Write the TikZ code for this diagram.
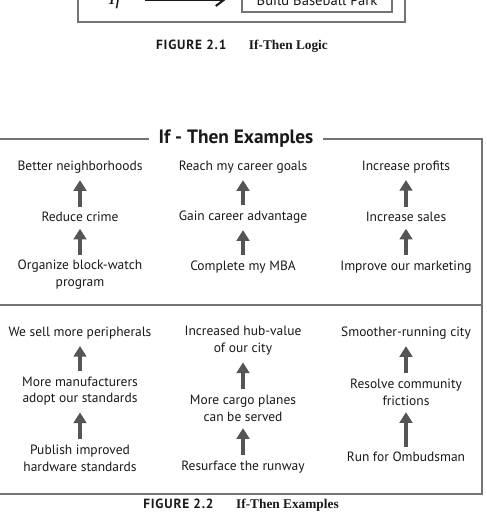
\documentclass[tikz,border=0pt]{standalone}
\usepackage{fontspec}
\setmainfont{Liberation Serif}
\setsansfont{PT Sans}
\definecolor{grisMarco}{RGB}{115,115,115}
\definecolor{grisFlecha}{RGB}{85,85,85}
\definecolor{tinta}{RGB}{25,25,25}
\usetikzlibrary{arrows.meta, positioning}
\newcommand{\figpie}[2]{{\sffamily\bfseries\fontsize{10}{10}\selectfont\addfontfeature{LetterSpace=6}#1}\hspace{17pt}{\rmfamily\bfseries\fontsize{10}{10}\selectfont #2}}
\tikzset{
  paso/.style={font=\sffamily\fontsize{10.1}{12.6}\selectfont, text=tinta, align=center, inner sep=1pt},
  flechaGorda/.style={draw=grisFlecha, line width=3.6pt,
    -{Triangle[width=9.5pt 0 0,length=8pt 0 0]}, shorten <=3pt, shorten >=4pt},
  marco/.style={draw=grisMarco, line width=1.4pt},
  pie/.style={text=tinta, inner sep=0pt}
}

\begin{document}
\begin{tikzpicture}[x=0.75pt,y=-0.75pt]
  \useasboundingbox (0,0) rectangle (486,525);
  \clip (0,0) rectangle (486,525);
  % Figura 2.1 (recortada)
  \draw[marco, line width=1pt] (78,-20) rectangle (405,22);
  \node[pie, font=\itshape\fontsize{15}{15}\selectfont] (si) at (115,0) {If};
  \node[draw=grisMarco, line width=0.8pt, minimum width=112.5pt, minimum height=18pt,
        inner sep=0pt, font=\sffamily\fontsize{11}{11}\selectfont, text=tinta]
        (parque) at (317,0) {Build Baseball Park};
  \draw[line width=1.5pt, tinta, -{Straight Barb[length=6pt,width=9pt]},
        shorten <=18pt, shorten >=12pt] (si) -- (parque);
  \node[pie] (pie1) at (242,46) {\figpie{FIGURE 2.1}{If-Then Logic}};
  % Marco de ejemplos
  \draw[marco] (-5,139) rectangle (482,494);
  \draw[marco] (-5,305) -- (482,305);
  \node[fill=white, inner xsep=7.5pt, inner ysep=1pt, text=tinta,
        font=\sffamily\bfseries\fontsize{14.5}{15}\selectfont] (titulo) at (236,139) {If - Then Examples};
  % Fila superior
  \node[paso] (a1) at (80,167) {Better neighborhoods};
  \node[paso] (a2) at (80,217) {Reduce crime};
  \node[paso] (a3) at (80,275) {Organize block-watch\\program};
  \node[paso] (b1) at (243,167) {Reach my career goals};
  \node[paso] (b2) at (243,217) {Gain career advantage};
  \node[paso] (b3) at (243,267) {Complete my MBA};
  \node[paso] (c1) at (406,167) {Increase profits};
  \node[paso] (c2) at (406,217) {Increase sales};
  \node[paso] (c3) at (406,267) {Improve our marketing};
  % Fila inferior
  \node[paso] (d1) at (80,333) {We sell more peripherals};
  \node[paso] (d2) at (80,391) {More manufacturers\\adopt our standards};
  \node[paso] (d3) at (80,458) {Publish improved\\hardware standards};
  \node[paso] (e1) at (243,341) {Increased hub-value\\of our city};
  \node[paso] (e2) at (243,408) {More cargo planes\\can be served};
  \node[paso] (e3) at (243,467) {Resurface the runway};
  \node[paso] (f1) at (406,333) {Smoother-running city};
  \node[paso] (f2) at (406,392) {Resolve community\\frictions};
  \node[paso] (f3) at (406,457) {Run for Ombudsman};
  % Flechas
  \foreach \col in {a,b,c,d,e,f}{
    \draw[flechaGorda] (\col2) -- (\col1);
    \draw[flechaGorda] (\col3) -- (\col2);
  }
  \node[pie] (pie2) at (241,505) {\figpie{FIGURE 2.2}{If-Then Examples}};
\end{tikzpicture}
\end{document}
